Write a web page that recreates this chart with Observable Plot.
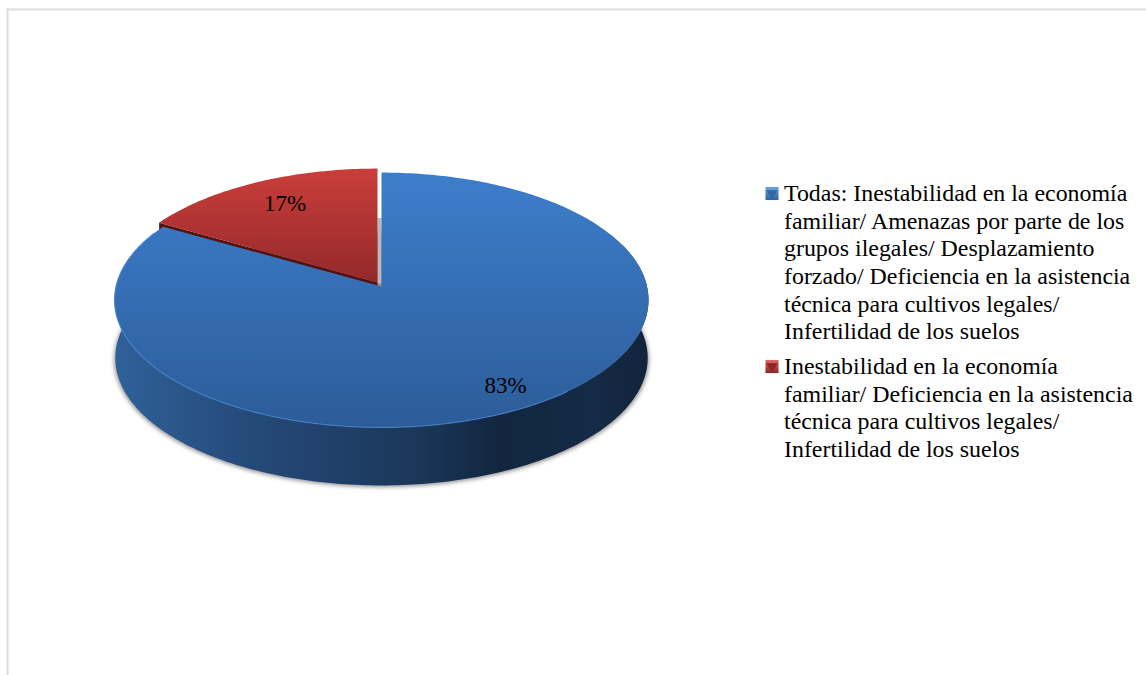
<!DOCTYPE html>
<html lang="es">
<head>
<meta charset="utf-8">
<script src="https://cdn.jsdelivr.net/npm/d3@7"></script>
<script src="https://cdn.jsdelivr.net/npm/@observablehq/plot@0.6"></script>
<style>
html,body{margin:0;padding:0;background:#fff;overflow:hidden}
svg{display:block}
</style>
</head>
<body>
<div id="chart"></div>
<script>
// Values
const categories = ["Todas", "Inestabilidad"];
const shares = [83.33, 16.67];
const percentLabels = ["83%", "17%"];
const legendTodas = [
  "Todas: Inestabilidad en la economía",
  "familiar/ Amenazas por parte de los",
  "grupos ilegales/ Desplazamiento",
  "forzado/ Deficiencia en la asistencia",
  "técnica para cultivos legales/",
  "Infertilidad de los suelos"
];
const legendInestabilidad = [
  "Inestabilidad en la economía",
  "familiar/ Deficiencia en la asistencia",
  "técnica para cultivos legales/",
  "Infertilidad de los suelos"
];

// View geometry of the tilted pie (unit circle in perspective)
const W = 1146, H = 675, mL = 7, mT = 9;
const pxX = 265.5, pxY = 126, cx = 381, cy = 286;
const k = 0.1059;
const depth = 58 / pxY;
const explodeX = -4 / pxX, explodeY = 4 / pxY;

const total = d3.sum(shares);
const deg = s => s / total * 360;
const blueEnd = deg(shares[0]);
const rad = a => a * Math.PI / 180;
const pt = (a, r = 1, ox = 0, oy = 0) => {
  const u = r * Math.sin(rad(a)), v = r * Math.cos(rad(a)), w = 1 + k * v;
  return {x: u / w + ox, y: v / w + oy};
};
const arc = (a0, a1, ox = 0, oy = 0, sx = 1) => {
  const n = Math.ceil(Math.abs(a1 - a0));
  return d3.range(n + 1).map(i => {
    const p = pt(a0 + (a1 - a0) * i / n, 1, ox, oy);
    return {x: p.x * sx, y: p.y};
  });
};

const wallScale = 0.997;
const blueTop = [pt(0, 0), ...arc(0, blueEnd)];
const redTop = [pt(0, 0, explodeX, explodeY), ...arc(blueEnd, 360, explodeX, explodeY)];
const blueWall = [...arc(70, 290), ...arc(290, 70, 0, -depth, wallScale)];
const redWall = [
  pt(0, 0, explodeX, explodeY), pt(blueEnd, 1, explodeX, explodeY),
  pt(blueEnd, 1, explodeX, explodeY - depth), pt(0, 0, explodeX, explodeY - depth)
];
const shadow = arc(0, 360, 0, -depth - 1.5 / pxY, wallScale * 1.004);
const blueRim = arc(140, 296);
const gapStrip = [{x: -2 / pxX, y1: 0.02, y2: 68 / pxY}];

const blueLabel = pt(blueEnd / 2, 0.86, 0, 3 / pxY);
const redLabel = pt(blueEnd + deg(shares[1]) / 2, 0.77, explodeX + 3 / pxX, explodeY);
const pieLabels = [
  {...blueLabel, t: percentLabels[0]},
  {...redLabel, t: percentLabels[1]}
];

const defs = () => d3.create("svg:defs").html(`
  <linearGradient id="gBlueTop" x1="0" y1="0" x2="0" y2="1">
    <stop offset="0" stop-color="#3d7ecc"/><stop offset="1" stop-color="#2c5c98"/>
  </linearGradient>
  <linearGradient id="gRedTop" x1="0" y1="0" x2="0" y2="1">
    <stop offset="0" stop-color="#ca3e3a"/><stop offset="1" stop-color="#93292a"/>
  </linearGradient>
  <linearGradient id="gWall" x1="0" y1="0" x2="1" y2="0">
    <stop offset="0" stop-color="#2f6199"/><stop offset="0.25" stop-color="#254a7a"/>
    <stop offset="0.58" stop-color="#1a3658"/><stop offset="0.72" stop-color="#12263f"/>
    <stop offset="0.9" stop-color="#152a46"/><stop offset="1" stop-color="#12243c"/>
  </linearGradient>
  <linearGradient id="gSwBlue" x1="0" y1="0" x2="0" y2="1">
    <stop offset="0" stop-color="#6ea3e2"/><stop offset="1" stop-color="#2f639f"/>
  </linearGradient>
  <linearGradient id="gSwRed" x1="0" y1="0" x2="0" y2="1">
    <stop offset="0" stop-color="#dd6a64"/><stop offset="1" stop-color="#8c2626"/>
  </linearGradient>
`).node();

const poly = (data, opts) => Plot.line(data, {x: "x", y: "y", stroke: "none", ...opts});
const serif = {fontFamily: "Liberation Serif", fill: "#000"};
const legendX = 783.5 - mL;
const rowH = 27.6;
const legendLines = (lines, firstY) => lines.map((t, i) =>
  Plot.text([t], {
    text: d => d, frameAnchor: "top-left", textAnchor: "start", lineAnchor: "middle",
    dx: legendX, dy: firstY + i * rowH - mT, fontSize: 23.9, ...serif
  }));
const swatch = (fill, dark, y) => [
  Plot.dot([0], {frameAnchor: "top-left", dx: 771.5 - mL, dy: y - mT, symbol: "square", r: 7.4, fill, stroke: "none"}),
  Plot.dot([0], {frameAnchor: "top-left", dx: 771.5 - mL, dy: y - mT, symbol: "triangle", rotate: 180, r: 4.2, fill: dark, stroke: "none"})
];

const chart = Plot.plot({
  width: W, height: H,
  marginLeft: mL, marginTop: mT, marginRight: 0, marginBottom: 0,
  style: {background: "#fff"},
  x: {axis: null, domain: [(mL - cx) / pxX, (W - cx) / pxX], range: [mL, W]},
  y: {axis: null, domain: [(cy - mT) / pxY, (cy - H) / pxY], range: [mT, H]},
  marks: [
    defs,
    Plot.frame({anchor: "top", stroke: "#dedede", strokeWidth: 2}),
    Plot.frame({anchor: "left", stroke: "#dedede", strokeWidth: 2}),
    poly(shadow, {fill: "#8e8e8e", imageFilter: "blur(2px)"}),
    Plot.ruleX(gapStrip, {x: "x", y1: "y1", y2: "y2", stroke: "#b9b9b9", strokeWidth: 4}),
    poly(redWall, {fill: "#551010"}),
    poly(blueWall, {fill: "url(#gWall)"}),
    poly(blueTop, {fill: "url(#gBlueTop)"}),
    Plot.line(blueRim, {x: "x", y: "y", stroke: "#4a88d6", strokeWidth: 1.2, strokeOpacity: 0.75}),
    poly(redTop, {fill: "url(#gRedTop)"}),
    Plot.text(pieLabels, {x: "x", y: "y", text: "t", fontSize: 23, ...serif}),
    ...swatch("url(#gSwBlue)", "#33679f", 193),
    ...legendLines(legendTodas, 193),
    ...swatch("url(#gSwRed)", "#8c2626", 366),
    ...legendLines(legendInestabilidad, 366)
  ]
});
document.getElementById("chart").append(chart);
</script>
</body>
</html>
